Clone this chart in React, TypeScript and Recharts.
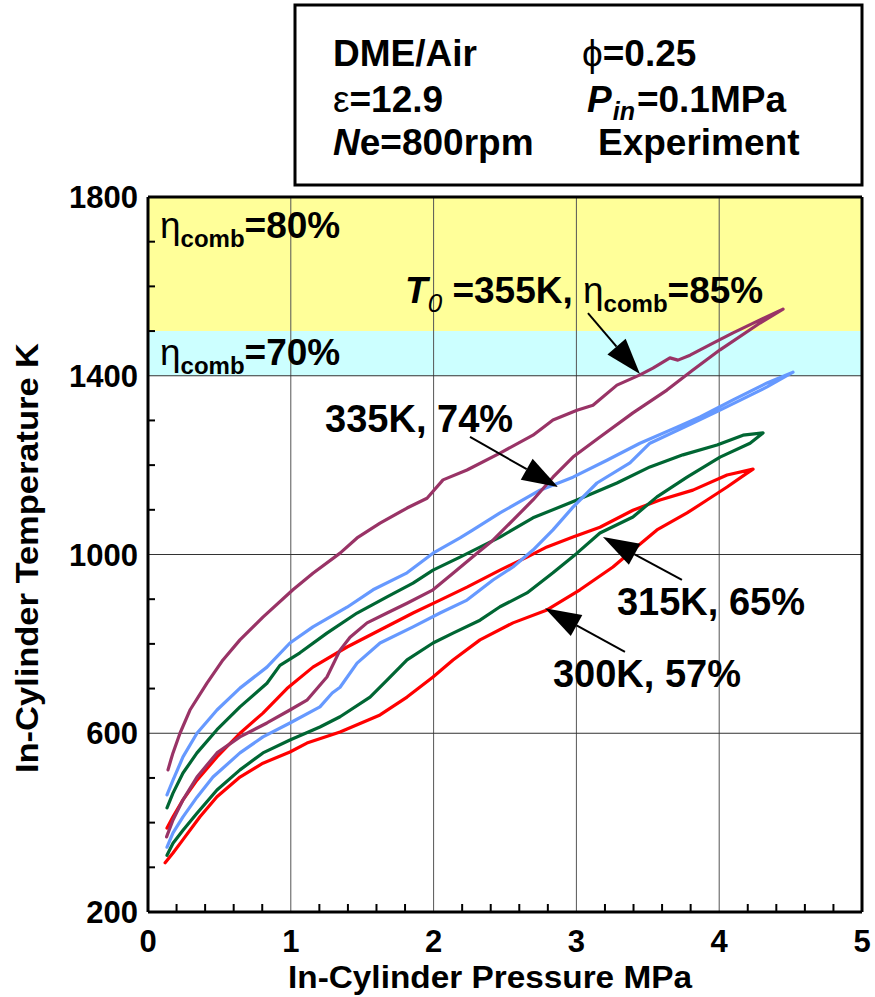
import React from 'react';
import { LineChart, Line, XAxis, YAxis, ReferenceArea, ReferenceLine, ReferenceDot, Scatter } from 'recharts';

const FONT = '"Liberation Sans", Arial, Helvetica, sans-serif';

// ---- axis ticks ----
const xTicks = [0, 0.2, 0.4, 0.6, 0.8, 1, 1.2, 1.4, 1.6, 1.8, 2, 2.2, 2.4, 2.6, 2.8, 3, 3.2, 3.4, 3.6, 3.8, 4, 4.2, 4.4, 4.6, 4.8, 5];
const yTicks = [200, 300, 400, 500, 600, 700, 800, 900, 1000, 1100, 1200, 1300, 1400, 1500, 1600, 1700, 1800];
const xLabelTicks = [0, 1, 2, 3, 4, 5];
const yLabelTicks = [200, 600, 1000, 1400, 1800];
const xGrid = [1, 2, 3, 4];
const yGrid = [600, 1000, 1400];

// ---- efficiency bands (K) ----
const band80 = [1500, 1800];
const band70 = [1400, 1500];

// ---- T0 = 300 K (red): compression then expansion, [P MPa, T K] ----
const comp300 = [[0.12, 310], [0.175, 332], [0.245, 362], [0.364, 413], [0.483, 458], [0.644, 502], [0.805, 533], [0.994, 558], [1.113, 578], [1.345, 603], [1.625, 641], [1.814, 681], [1.996, 726], [2.136, 764], [2.325, 809], [2.556, 847], [2.794, 876], [3.025, 921], [3.256, 972], [3.396, 1010], [3.564, 1055], [3.775, 1093], [3.915, 1122], [4.055, 1151], [4.195, 1182], [4.237, 1191]];
const exp300 = [[4.237, 1191], [4.055, 1178], [3.816, 1144], [3.585, 1122], [3.396, 1099], [3.165, 1061], [2.976, 1039], [2.794, 1017], [2.654, 994], [2.465, 965], [2.234, 927], [2.045, 898], [1.856, 869], [1.625, 831], [1.394, 793], [1.155, 748], [0.973, 700], [0.805, 645], [0.644, 600], [0.483, 547], [0.343, 495], [0.245, 451], [0.175, 413], [0.133, 388]];

// ---- T0 = 315 K (green) ----
const comp315 = [[0.133, 327], [0.175, 354], [0.245, 383], [0.343, 421], [0.483, 473], [0.644, 518], [0.805, 556], [0.994, 585], [1.204, 614], [1.345, 637], [1.555, 681], [1.674, 719], [1.814, 764], [1.996, 802], [2.136, 824], [2.325, 853], [2.465, 883], [2.654, 914], [2.836, 959], [3.004, 1003], [3.165, 1048], [3.396, 1084], [3.564, 1129], [3.775, 1173], [4.006, 1218], [4.216, 1249], [4.307, 1272]];
const exp315 = [[4.307, 1272], [4.167, 1267], [3.985, 1245], [3.746, 1223], [3.515, 1196], [3.284, 1160], [3.004, 1122], [2.696, 1082], [2.465, 1039], [2.185, 994], [1.996, 965], [1.856, 936], [1.674, 905], [1.464, 869], [1.253, 824], [1.064, 780], [0.924, 752], [0.833, 712], [0.644, 659], [0.483, 608], [0.343, 556], [0.245, 511], [0.175, 466], [0.133, 433]];

// ---- T0 = 335 K (blue) ----
const comp335 = [[0.133, 345], [0.175, 377], [0.245, 413], [0.343, 457], [0.455, 502], [0.644, 556], [0.805, 592], [0.994, 623], [1.204, 659], [1.29, 690], [1.345, 703], [1.464, 757], [1.625, 802], [1.856, 838], [2.045, 869], [2.234, 898], [2.416, 943], [2.556, 972], [2.696, 1010], [2.836, 1055], [2.976, 1106], [3.144, 1160], [3.375, 1205], [3.515, 1249], [3.816, 1294], [4.006, 1323], [4.335, 1375], [4.517, 1408]];
const exp335 = [[4.517, 1408], [4.335, 1384], [4.097, 1346], [3.866, 1308], [3.704, 1285], [3.445, 1249], [3.214, 1211], [2.976, 1173], [2.745, 1144], [2.465, 1093], [2.276, 1055], [2.185, 1037], [1.996, 1003], [1.814, 959], [1.576, 921], [1.394, 882], [1.155, 838], [0.994, 802], [0.833, 748], [0.644, 701], [0.483, 652], [0.343, 600], [0.245, 547], [0.175, 495], [0.133, 462]];

// ---- T0 = 355 K (purple) ----
const comp355 = [[0.13, 368], [0.175, 406], [0.245, 451], [0.343, 502], [0.483, 556], [0.644, 592], [0.833, 623], [0.994, 652], [1.113, 674], [1.253, 726], [1.345, 786], [1.415, 815], [1.534, 847], [1.674, 869], [1.814, 891], [1.996, 921], [2.136, 958], [2.304, 1003], [2.416, 1032], [2.556, 1077], [2.696, 1122], [2.836, 1173], [2.976, 1218], [3.165, 1263], [3.396, 1317], [3.634, 1368], [3.816, 1413], [4.006, 1458], [4.286, 1518], [4.447, 1549]];
const exp355 = [[4.447, 1549], [4.286, 1525], [4.097, 1496], [3.957, 1473], [3.796, 1446], [3.711, 1435], [3.655, 1440], [3.536, 1417], [3.445, 1402], [3.284, 1379], [3.116, 1334], [3.004, 1323], [2.836, 1301], [2.696, 1267], [2.465, 1227], [2.234, 1189], [2.066, 1167], [1.954, 1126], [1.814, 1104], [1.625, 1070], [1.464, 1037], [1.345, 1003], [1.155, 958], [1.015, 921], [0.805, 860], [0.644, 809], [0.525, 764], [0.413, 712], [0.294, 652], [0.224, 600], [0.175, 556], [0.16, 540], [0.14, 518]];

// ---- annotations ----
const etaLabels = [
  { p: 0.084, t: 1708, text: '=80%' },
  { p: 0.084, t: 1424, text: '=70%' },
];
const caseLabels = [
  { p: 1.24, t: 1274, text: '335K, 74%' },
  { p: 3.284, t: 865, text: '315K, 65%' },
  { p: 2.836, t: 703, text: '300K, 57%' },
];
const t0Label = { p: 1.8, t: 1563, temp: '=355K, ', eta: '=85%' };
const arrows = [
  { from: [3.081, 1540], to: [3.445, 1404] },
  { from: [2.255, 1263], to: [2.871, 1151] },
  { from: [3.739, 943], to: [3.186, 1039] },
  { from: [3.34, 782], to: [2.78, 880] },
];

const toPts = (a: number[][]) => a.map(([p, t]) => ({ p, t }));
const series = [
  { name: '300K', color: '#FF0000', data: toPts([...comp300, ...exp300.slice(1)]) },
  { name: '315K', color: '#006633', data: toPts([...comp315, ...exp315.slice(1)]) },
  { name: '335K', color: '#6699FF', data: toPts([...comp335, ...exp335.slice(1)]) },
  { name: '355K', color: '#993366', data: toPts([...comp355, ...exp355.slice(1)]) },
];

const near = (v: number, arr: number[]) => arr.some((a) => Math.abs(a - v) < 1e-6);
const xMinorPts = xTicks.filter((v) => !near(v, xLabelTicks)).map((v) => ({ p: v, t: 200 }));
const yMinorPts = yTicks.filter((v) => !near(v, yLabelTicks)).map((v) => ({ p: 0, t: v }));

const XTick = (props: any) => {
  const { x, y, payload } = props;
  const v = payload.value;
  if (!near(v, xLabelTicks)) return <g />;
  return (
    <text x={x} y={y + 40} textAnchor="middle" fontFamily={FONT} fontSize={31} fontWeight="bold" fill="#000">
      {v}
    </text>
  );
};

const YTick = (props: any) => {
  const { x, y, payload } = props;
  const v = payload.value;
  if (!near(v, yLabelTicks)) return <g />;
  return (
    <text x={x - 10} y={y + 11} textAnchor="end" fontFamily={FONT} fontSize={31} fontWeight="bold" fill="#000">
      {v}
    </text>
  );
};

const XMinorMark = (p: any) => <line x1={p.cx} x2={p.cx} y1={p.cy} y2={p.cy - 8} stroke="#000" strokeWidth={2} />;
const YMinorMark = (p: any) => <line x1={p.cx} x2={p.cx + 7} y1={p.cy} y2={p.cy} stroke="#000" strokeWidth={2} />;

const ArrowShape = (props: any) => {
  const { x1, y1, x2, y2 } = props;
  const dx = x2 - x1;
  const dy = y2 - y1;
  const len = Math.hypot(dx, dy) || 1;
  const ux = dx / len;
  const uy = dy / len;
  const hl = 36;
  const hw = 12;
  const bx = x2 - ux * hl;
  const by = y2 - uy * hl;
  const pts = `${x2},${y2} ${bx - uy * hw},${by + ux * hw} ${bx + uy * hw},${by - ux * hw}`;
  return (
    <g>
      <line x1={x1} y1={y1} x2={bx} y2={by} stroke="#000" strokeWidth={2} />
      <polygon points={pts} fill="#000" />
    </g>
  );
};

const EtaText = (text: string) => (props: any) => (
  <text x={props.cx} y={props.cy} fontFamily={FONT} fontSize={37} fontWeight="bold" fill="#000">
    <tspan fontWeight="normal">η</tspan>
    <tspan fontSize={24} dy={9}>comb</tspan>
    <tspan dy={-9}>{text}</tspan>
  </text>
);

const PlainText = (text: string) => (props: any) => (
  <text x={props.cx} y={props.cy} fontFamily={FONT} fontSize={38} fontWeight="bold" fill="#000">
    {text}
  </text>
);

const T0Text = (props: any) => (
  <text x={props.cx} y={props.cy} fontFamily={FONT} fontSize={37} fontWeight="bold" fill="#000">
    <tspan fontStyle="italic">T</tspan>
    <tspan fontSize={26} fontStyle="italic" fontWeight="normal" dy={9}>0</tspan>
    <tspan dy={-9}> {t0Label.temp}</tspan>
    <tspan fontWeight="normal">η</tspan>
    <tspan fontSize={24} dy={9}>comb</tspan>
    <tspan dy={-9}>{t0Label.eta}</tspan>
  </text>
);

const xTitle = 'In-Cylinder Pressure MPa';
const yTitle = 'In-Cylinder Temperature K';

export default function App() {
  return (
    <div style={{ position: 'absolute', left: 0, top: 0, width: 875, height: 997, background: '#fff' }}>
      <LineChart width={875} height={997} margin={{ top: 197, right: 13, bottom: 0, left: 0 }}>
        <XAxis
          dataKey="p"
          type="number"
          domain={[0, 5]}
          ticks={xTicks}
          interval={0}
          allowDataOverflow
          height={85}
          tickSize={0}
          tickMargin={0}
          tickLine={false}
          tick={XTick}
          axisLine={{ stroke: '#000', strokeWidth: 3 }}
          label={{
            content: () => (
              <text x={490} y={988} textAnchor="middle" fontFamily={FONT} fontSize={31} fontWeight="bold" fill="#000" textLength={404} lengthAdjust="spacingAndGlyphs">
                {xTitle}
              </text>
            ),
          }}
        />
        <YAxis
          dataKey="t"
          type="number"
          domain={[200, 1800]}
          ticks={yTicks}
          interval={0}
          allowDataOverflow
          width={148}
          tickSize={0}
          tickMargin={0}
          tickLine={false}
          tick={YTick}
          axisLine={{ stroke: '#000', strokeWidth: 3 }}
          label={{
            content: () => (
              <text transform="translate(38,558) rotate(-90)" textAnchor="middle" fontFamily={FONT} fontSize={31} fontWeight="bold" fill="#000" textLength={430} lengthAdjust="spacingAndGlyphs">
                {yTitle}
              </text>
            ),
          }}
        />
        <ReferenceArea x1={0} x2={5} y1={band80[0]} y2={band80[1]} fill="#FFFF99" fillOpacity={1} stroke="none" />
        <ReferenceArea x1={0} x2={5} y1={band70[0]} y2={band70[1]} fill="#CCFFFF" fillOpacity={1} stroke="none" />
        {xGrid.map((v) => (
          <ReferenceLine key={'gx' + v} x={v} stroke="#555" strokeWidth={1} />
        ))}
        {yGrid.map((v) => (
          <ReferenceLine key={'gy' + v} y={v} stroke="#333" strokeWidth={1} />
        ))}
        {series.map((s) => (
          <Line
            key={s.name}
            data={s.data}
            dataKey="t"
            stroke={s.color}
            strokeWidth={3.2}
            dot={false}
            activeDot={false}
            isAnimationActive={false}
            strokeLinejoin="round"
            strokeLinecap="round"
          />
        ))}
        <Scatter data={xMinorPts} dataKey="t" shape={XMinorMark} isAnimationActive={false} />
        <Scatter data={yMinorPts} dataKey="t" shape={YMinorMark} isAnimationActive={false} />
        {arrows.map((a, i) => (
          <ReferenceLine
            key={'ar' + i}
            segment={[{ x: a.from[0], y: a.from[1] }, { x: a.to[0], y: a.to[1] }]}
            shape={ArrowShape}
            stroke="#000"
          />
        ))}
        {etaLabels.map((l, i) => (
          <ReferenceDot key={'eta' + i} x={l.p} y={l.t} r={0} shape={EtaText(l.text)} />
        ))}
        {caseLabels.map((l, i) => (
          <ReferenceDot key={'cl' + i} x={l.p} y={l.t} r={0} shape={PlainText(l.text)} />
        ))}
        <ReferenceDot x={t0Label.p} y={t0Label.t} r={0} shape={T0Text} />
        <ReferenceLine y={1800} stroke="#000" strokeWidth={3} ifOverflow="visible" />
        <ReferenceLine x={5} stroke="#000" strokeWidth={3} ifOverflow="visible" />
      </LineChart>
      <svg width={875} height={195} style={{ position: 'absolute', left: 0, top: 0 }}>
        <rect x={295} y={5} width={567} height={180} fill="#fff" stroke="#000" strokeWidth={3} />
        <g fontFamily={FONT} fontSize={37} fontWeight="bold" fill="#000">
          <text x={333} y={66}>DME/Air</text>
          <text x={582} y={66}>
            <tspan fontWeight="normal">ϕ</tspan>=0.25
          </text>
          <text x={333} y={112}>
            <tspan fontWeight="normal">ε</tspan>=12.9
          </text>
          <text x={587} y={112}>
            <tspan fontStyle="italic">P</tspan>
            <tspan fontStyle="italic" fontSize={25} dy={8} dx={1}>in</tspan>
            <tspan dy={-8} dx={2}>=0.1MPa</tspan>
          </text>
          <text x={333} y={155}>
            <tspan fontStyle="italic">N</tspan>e=800rpm
          </text>
          <text x={598} y={155}>Experiment</text>
        </g>
      </svg>
    </div>
  );
}
